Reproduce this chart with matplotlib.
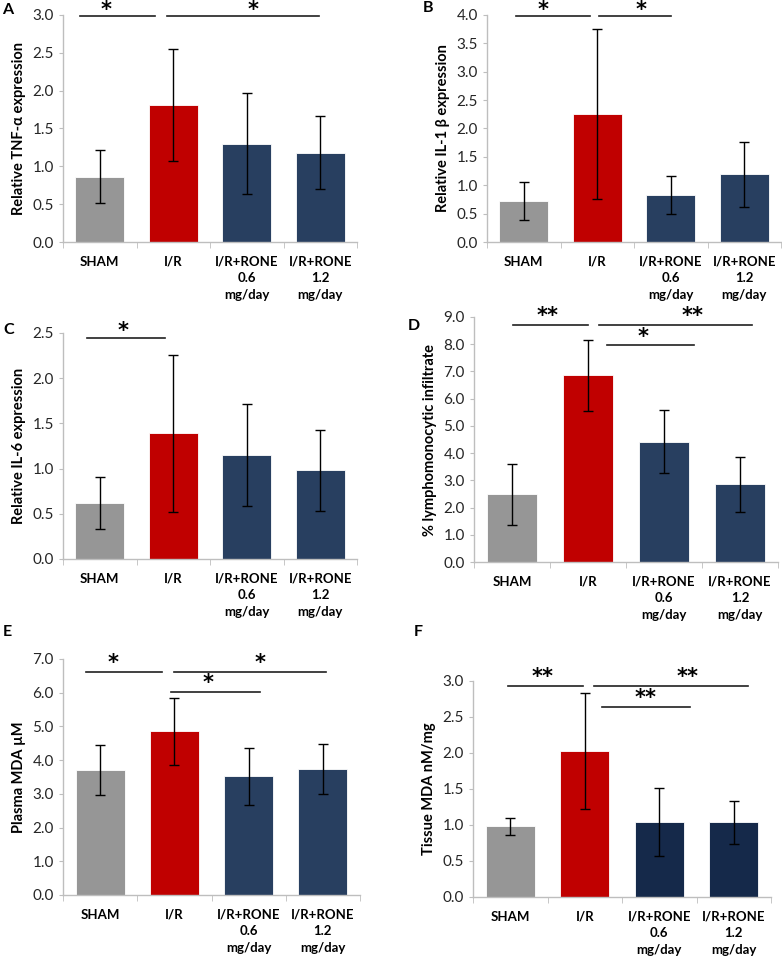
import matplotlib
matplotlib.use("Agg")
import matplotlib.pyplot as plt
import numpy as np

plt.rcParams['font.family'] = ['Lato', 'DejaVu Sans']

categories = ["SHAM", "I/R", "I/R+RONE\n0.6\nmg/day", "I/R+RONE\n1.2\nmg/day"]

# Panel data: means and error (SD)
a_mean = [0.86, 1.81, 1.30, 1.18]
a_err = [0.35, 0.74, 0.67, 0.48]
b_mean = [0.72, 2.26, 0.83, 1.19]
b_err = [0.34, 1.50, 0.33, 0.57]
c_mean = [0.62, 1.39, 1.15, 0.98]
c_err = [0.29, 0.87, 0.56, 0.45]
d_mean = [2.49, 6.86, 4.42, 2.85]
d_err = [1.12, 1.31, 1.15, 1.01]
e_mean = [3.72, 4.85, 3.52, 3.73]
e_err = [0.74, 1.00, 0.84, 0.74]
f_mean = [0.98, 2.03, 1.04, 1.04]
f_err = [0.12, 0.81, 0.47, 0.30]

ylabels = ["Relative TNF-α expression", "Relative IL-1 β expression",
           "Relative IL-6 expression", "% lymphomonocytic infiltrate",
           "Plasma MDA µM", "Tissue MDA nM/mg"]
ymax = [3.0, 4.0, 2.5, 9.0, 7.0, 3.0]
ystep = [0.5, 0.5, 0.5, 1.0, 1.0, 0.5]
letters = ["A", "B", "C", "D", "E", "F"]

# significance bars: (x_start, x_end, y_line, label, x_label, y_label)
sig = [
    [(-0.27, 0.75, 2.99, "*", 0.09, 3.06), (0.91, 2.98, 2.99, "*", 2.08, 3.06)],
    [(-0.10, 0.90, 3.99, "*", 0.26, 4.08), (1.02, 2.00, 3.99, "*", 1.59, 4.08)],
    [(-0.18, 0.89, 2.45, "*", 0.32, 2.52), ],
    [(0.01, 1.00, 8.70, "**", 0.47, 9.02), (1.14, 3.16, 8.70, "**", 2.38, 9.02),
     (1.25, 2.39, 7.96, "*", 1.72, 8.28)],
    [(-0.19, 0.84, 6.60, "*", 0.18, 6.88), (0.99, 3.04, 6.60, "*", 2.15, 6.88),
     (0.96, 2.15, 6.01, "*", 1.45, 6.29)],
    [(-0.03, 0.98, 2.93, "**", 0.43, 3.06), (1.13, 3.19, 2.93, "**", 2.38, 3.06),
     (1.23, 2.41, 2.64, "**", 1.82, 2.77)],
]

means = [a_mean, b_mean, c_mean, d_mean, e_mean, f_mean]
errs = [a_err, b_err, c_err, d_err, e_err, f_err]

navy = "#283F60"
navy_f = "#15294A"
bar_colors = [["#969696", "#C00000", navy, navy]] * 5 + [["#969696", "#C00000", navy_f, navy_f]]

W, H = 782, 961
# axes boxes in pixels: (left, top, right, bottom)
boxes = [(63, 15, 357, 242), (487, 15, 781, 242),
         (63, 333, 357, 559), (474, 317, 778, 562),
         (63, 659, 360, 895), (473, 681, 771, 897)]
letter_pos = [(2, 10), (423, 8), (3, 330), (408, 326), (3, 632), (414, 632)]

fig = plt.figure(figsize=(W / 100, H / 100), dpi=100)
spine_col = "#BEBEBE"

for i in range(6):
    l, t, r, b = boxes[i]
    ax = fig.add_axes([l / W, 1 - b / H, (r - l) / W, (b - t) / H])
    x = np.arange(4)
    ax.bar(x, means[i], width=0.66, color=bar_colors[i], edgecolor="white", linewidth=0.6)
    ax.errorbar(x, means[i], yerr=errs[i], fmt="none", ecolor="black",
                elinewidth=1.0, capsize=3.5, capthick=1.0)
    ax.set_xlim(-0.5, 3.5)
    ax.set_ylim(0, ymax[i])
    ticks = np.arange(0, ymax[i] + 1e-9, ystep[i])
    ax.set_yticks(ticks)
    ax.set_yticklabels([f"{v:.1f}" for v in ticks], fontsize=11, color="#262626")
    ax.set_xticks(x)
    ax.set_xticklabels(categories, fontsize=9.5, fontweight="bold", linespacing=1.45,
                       va="top")
    ax.set_xticks([-0.5, 0.5, 1.5, 2.5, 3.5], minor=True)
    ax.tick_params(axis="x", which="major", length=0, pad=10)
    ax.tick_params(axis="x", which="minor", length=4, color=spine_col, direction="out")
    ax.tick_params(axis="y", length=3, color=spine_col, direction="out")
    for s in ["top", "right"]:
        ax.spines[s].set_visible(False)
    for s in ["left", "bottom"]:
        ax.spines[s].set_color(spine_col)
        ax.spines[s].set_linewidth(1.0)
    ax.set_ylabel(ylabels[i], fontsize=10.5, fontweight="bold", labelpad=5)
    for (x0, x1, yl, lab, xt, yt) in sig[i]:
        ax.plot([x0, x1], [yl, yl], color="#202020", lw=1.2, clip_on=False)
        ax.text(xt, yt, lab, ha="center", va="center", fontsize=15, fontweight="bold",
                family="DejaVu Sans", clip_on=False)
    lx, ly = letter_pos[i]
    fig.text(lx / W, 1 - ly / H, letters[i], fontsize=11.5, fontweight="bold",
             ha="left", va="center")

fig.savefig("out.png", dpi=100)
